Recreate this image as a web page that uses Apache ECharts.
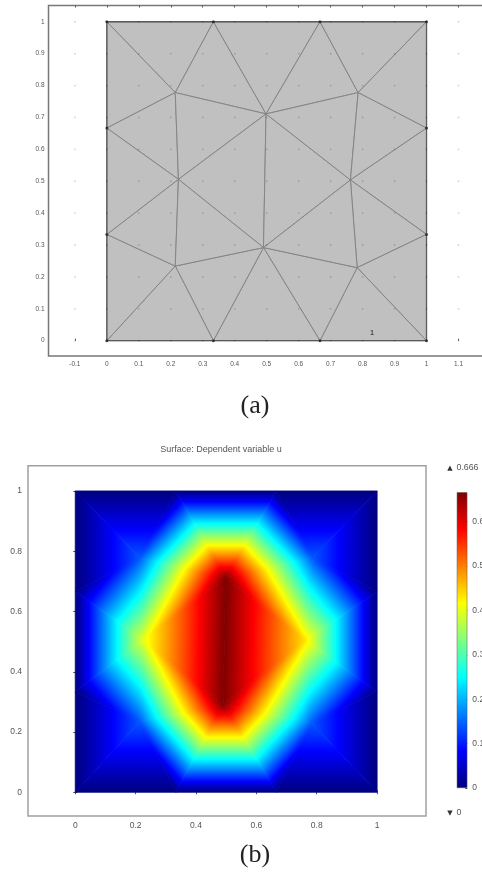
<!DOCTYPE html>
<html>
<head>
<meta charset="utf-8">
<style>html,body{margin:0;padding:0;background:#fff}#c{width:482px;height:873px;filter:blur(0.45px)}</style>
<script src="https://cdn.jsdelivr.net/npm/echarts@6/dist/echarts.min.js"></script>
</head>
<body>
<div id="c"></div>
<script>
// Mesh nodes (x, y) and solution value u at each node
const nodeX = [0, 0.3333, 0.6667, 1, 1, 1, 1, 0.6667, 0.3333, 0, 0, 0, 0.214, 0.498, 0.786, 0.224, 0.762, 0.214, 0.49, 0.783];
const nodeY = [0, 0, 0, 0, 0.3333, 0.6667, 1, 1, 1, 1, 0.6667, 0.3333, 0.778, 0.711, 0.778, 0.506, 0.504, 0.234, 0.292, 0.229];
const nodeU = [0, 0, 0, 0, 0, 0, 0, 0, 0, 0, 0, 0, 0.14, 0.666, 0.14, 0.40, 0.435, 0.14, 0.666, 0.14];
const triangles = [
  [9,8,12],[8,12,13],[8,7,13],[7,13,14],[7,6,14],[6,5,14],
  [9,12,10],[10,12,15],[12,13,15],[13,15,18],[13,16,18],
  [14,13,16],[14,5,16],[5,4,16],[4,16,19],[4,3,19],[3,2,19],[2,19,18],[16,18,19],
  [2,1,18],[1,17,18],[1,0,17],[0,11,17],[11,15,17],[15,17,18],[10,11,15]
];
const boundaryPath = [0, 1, 2, 3, 4, 5, 6, 7, 8, 9, 10, 11, 0];
const vertexNodes = [0, 1, 2, 3, 4, 5, 6, 7, 8, 9, 10, 11];
// Tick labels
const meshXTicks = [-0.1,0,0.1,0.2,0.3,0.4,0.5,0.6,0.7,0.8,0.9,1,1.1];
const meshYTicks = [0,0.1,0.2,0.3,0.4,0.5,0.6,0.7,0.8,0.9,1];
const surfTicks = [0,0.2,0.4,0.6,0.8,1];
const barTicks = [0,0.1,0.2,0.3,0.4,0.5,0.6];
const uMax = 0.666;
const barValue = [uMax];
const jetOffsets = [0, 0.125, 0.375, 0.625, 0.875, 1];
const jetColors = ['#00007f', '#0000ff', '#00ffff', '#ffff00', '#ff0000', '#7f0000'];
const subdomainLabel = [[0.83, 0.022, '1']];

const jetStops = jetOffsets.map((o, i) => ({ offset: o, color: jetColors[i] }));
const fmt = v => String(+(+v).toFixed(1));
const FONT = '"Liberation Sans"';
const TXT = '#555';

function axis(gridIndex, pos, min, max, ticks, opts) {
  opts = opts || {};
  return {
    type: 'value', gridIndex, position: pos, min, max, splitLine: { show: false },
    axisLine: { show: false },
    axisTick: { show: true, inside: true, length: opts.tick || 2, customValues: ticks, lineStyle: { color: '#555', width: 1 } },
    axisLabel: opts.labels
      ? { show: true, customValues: ticks, formatter: fmt, color: TXT, fontFamily: FONT, fontSize: opts.size, margin: opts.margin }
      : { show: false }
  };
}

const chart = echarts.init(document.getElementById('c'), null, { renderer: 'canvas' });

function meshItem(params, api) {
  const pts = triangles[params.dataIndex].map(n => api.coord([nodeX[n], nodeY[n]]));
  return { type: 'polygon', shape: { points: pts },
    style: { fill: '#c0c0c0', stroke: '#858585', lineWidth: 1 } };
}

function surfaceItem(params, api) {
  const t = triangles[params.dataIndex];
  const p = t.map(n => api.coord([nodeX[n], nodeY[n]]));
  const u = t.map(n => nodeU[n]);
  // The field is linear on a triangle, so one linear gradient along its slope paints it exactly.
  const ax = p[1][0]-p[0][0], ay = p[1][1]-p[0][1], bx = p[2][0]-p[0][0], by = p[2][1]-p[0][1];
  const du1 = u[1]-u[0], du2 = u[2]-u[0];
  const det = ax*by - ay*bx;
  const gx = (du1*by - du2*ay)/det, gy = (ax*du2 - bx*du1)/det;
  const g2 = gx*gx + gy*gy;
  const k0 = (0 - u[0])/g2, k1 = (uMax - u[0])/g2;
  const grad = new echarts.graphic.LinearGradient(
    p[0][0]+gx*k0, p[0][1]+gy*k0, p[0][0]+gx*k1, p[0][1]+gy*k1, jetStops, true);
  return { type: 'polygon', shape: { points: p }, style: { fill: grad, stroke: grad, lineWidth: 0.8 } };
}

const dots = [];
meshXTicks.forEach(x => meshYTicks.forEach(y => dots.push([x, y])));

function label(x, y, text, font, fill, align) {
  return { type: 'text', style: { x, y, text, font, fill, textAlign: align || 'left', textVerticalAlign: 'middle' } };
}

chart.setOption({
  animation: false,
  backgroundColor: '#fff',
  grid: [
    { left: 48.5, top: 5.5, width: 480, height: 350.5, outerBoundsMode: 'none', containLabel: false, show: true, borderColor: '#777', borderWidth: 1.5, backgroundColor: 'transparent' },
    { left: 28, top: 465.7, width: 398, height: 350.3, outerBoundsMode: 'none', containLabel: false, show: true, borderColor: '#a0a0a0', borderWidth: 1.5, backgroundColor: 'transparent' },
    { left: 456.8, top: 492.3, width: 10.5, height: 295.7, outerBoundsMode: 'none', containLabel: false }
  ],
  xAxis: [
    axis(0, 'bottom', -0.1825, 1.319, meshXTicks, { labels: true, size: 6.5, margin: 5 }),
    axis(0, 'top', -0.1825, 1.319, meshXTicks),
    axis(1, 'bottom', -0.1565, 1.162, surfTicks, { labels: true, size: 8.5, margin: 5 }),
    axis(1, 'top', -0.1565, 1.162, surfTicks),
    { type: 'category', gridIndex: 2, data: ['u'], show: false }
  ],
  yAxis: [
    axis(0, 'left', -0.048, 1.051, meshYTicks, { labels: true, size: 6.5, margin: 4 }),
    axis(1, 'left', -0.0787, 1.0838, surfTicks, { labels: true, size: 8.5, margin: 6 }),
    axis(1, 'right', -0.0787, 1.0838, surfTicks),
    {
      type: 'value', gridIndex: 2, position: 'right', min: 0, max: uMax, splitLine: { show: false },
      axisLine: { show: false },
      axisTick: { show: true, inside: true, length: 2, customValues: barTicks, lineStyle: { color: '#444' } },
      axisLabel: { show: true, customValues: barTicks, formatter: fmt, color: TXT, fontFamily: FONT, fontSize: 8.5, margin: 5 }
    }
  ],
  series: [
    { type: 'scatter', xAxisIndex: 0, yAxisIndex: 0, data: dots, symbolSize: 1.8, silent: true, z: 5,
      itemStyle: { color: 'rgba(0,0,0,0.22)' } },
    { type: 'custom', xAxisIndex: 0, yAxisIndex: 0, data: triangles, renderItem: meshItem, silent: true, z: 2, encode: { x: [], y: [] } },
    { type: 'line', xAxisIndex: 0, yAxisIndex: 0, data: boundaryPath.map(n => [nodeX[n], nodeY[n]]), showSymbol: false, silent: true, z: 3,
      lineStyle: { color: '#5a5a5a', width: 1.3 } },
    { type: 'scatter', xAxisIndex: 0, yAxisIndex: 0, data: vertexNodes.map(n => [nodeX[n], nodeY[n]]), symbolSize: 3, silent: true, z: 4,
      itemStyle: { color: '#222' } },
    { type: 'scatter', xAxisIndex: 0, yAxisIndex: 0, data: subdomainLabel, symbolSize: 0, silent: true, z: 6,
      label: { show: true, position: 'inside', formatter: p => p.value[2], color: '#222', fontFamily: FONT, fontSize: 6.5, fontWeight: 'bold' } },
    { type: 'custom', xAxisIndex: 2, yAxisIndex: 1, data: triangles, renderItem: surfaceItem, silent: true, z: 2, encode: { x: [], y: [] } },
    { type: 'bar', xAxisIndex: 4, yAxisIndex: 3, data: barValue, barWidth: '100%', silent: true,
      itemStyle: { borderColor: '#555', borderWidth: 0.5,
        color: new echarts.graphic.LinearGradient(0, 1, 0, 0, jetStops) } }
  ],
  graphic: [
    label(221, 450, 'Surface: Dependent variable u', '9px ' + FONT, '#555', 'center'),
    label(450, 468, '▲', '7px "DejaVu Sans"', '#333', 'center'),
    label(456.5, 468, '0.666', '8.8px ' + FONT, TXT),
    label(450, 812.7, '▼', '7px "DejaVu Sans"', '#333', 'center'),
    label(456.5, 812.7, '0', '8.8px ' + FONT, TXT),
    label(255, 406, '(a)', '26px "Liberation Serif"', '#222', 'center'),
    label(255, 855.5, '(b)', '26px "Liberation Serif"', '#222', 'center')
  ]
});
</script>
</body>
</html>
